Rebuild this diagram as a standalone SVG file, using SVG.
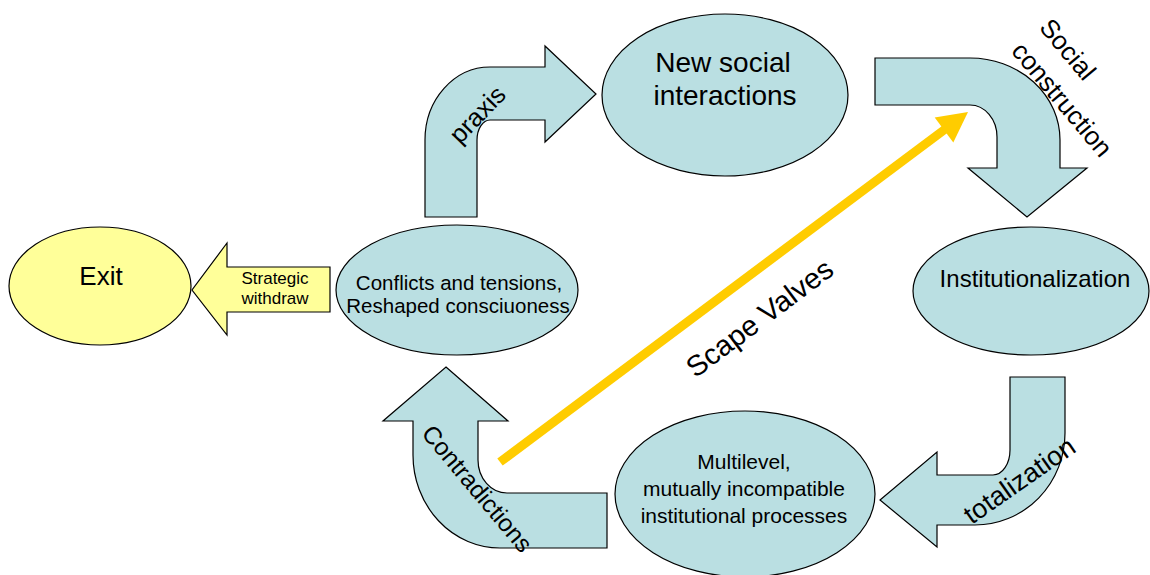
<svg xmlns="http://www.w3.org/2000/svg" width="1150" height="575" viewBox="0 0 1150 575">
<style>
.blue{fill:#BADFE2;stroke:#000;stroke-width:1.2}
.yel{fill:#FFFF99;stroke:#000;stroke-width:1.2}
text{font-family:"Liberation Sans",Arial,sans-serif;fill:#000}
.m{text-anchor:middle}
</style>
<rect width="1150" height="575" fill="#fff"/>
<g id="connectors">
  <g id="praxis">
    <path class="blue" d="M425,217 L425,140 A65,73 0 0 1 490,67 L545,67 L545,46 L596,94 L545,142 L545,120 L490,120 A13,20 0 0 0 477,140 L477,217 Z"/>
    <g transform="translate(479,116) rotate(-46)"><text class="m" x="0" y="6.5" font-size="25.5">praxis</text></g>
  </g>
  <g id="social-construction">
    <path class="blue" d="M875,58 L970,58 A90,82 0 0 1 1060,140 L1060,168 L1087,168 L1027,217 L968,168 L997,168 L997,137 A27,32 0 0 0 970,105 L875,105 Z"/>
    <g transform="translate(1017.5,45.4) rotate(50)">
      <text x="0" y="-27" font-size="26">Social</text>
      <text x="0" y="9.4" font-size="26">construction</text>
    </g>
  </g>
  <g id="totalization">
    <path class="blue" d="M1010,377 L1065,377 L1065,433 A90,92 0 0 1 975,525 L937,525 L937,547 L880,500 L937,452 L937,475 L993,475 A17,25 0 0 0 1010,450 Z"/>
    <g transform="translate(1019,480) rotate(-35)"><text class="m" x="0" y="9.7" font-size="27">totalization</text></g>
  </g>
  <g id="contradictions">
    <path class="blue" d="M446,367 L508,421 L478,421 L478,460 A29,33 0 0 0 507,493 L607,493 L607,548 L500,548 A87,93 0 0 1 413,455 L413,421 L383,421 Z"/>
    <g transform="translate(477.5,488.5) rotate(50)"><text class="m" x="0" y="8.6" font-size="24.5">Contradictions</text></g>
  </g>
  <g id="strategic-withdraw">
    <polygon class="yel" points="330,267 227,267 227,243 192,290 227,335 227,312 330,312"/>
    <text class="m" x="275" y="284" font-size="17">Strategic</text>
    <text class="m" x="275" y="304" font-size="17">withdraw</text>
  </g>
</g>
<g id="node-exit">
  <ellipse class="yel" cx="100" cy="286" rx="91" ry="59"/>
  <text class="m" x="101" y="285" font-size="26">Exit</text>
</g>
<g id="node-conflicts">
  <ellipse class="blue" cx="457" cy="290" rx="121" ry="65"/>
  <text class="m" x="459" y="290" font-size="20.5">Conflicts and tensions,</text>
  <text class="m" x="458" y="313" font-size="20.5">Reshaped consciuoness</text>
</g>
<g id="node-new-social">
  <ellipse class="blue" cx="725" cy="95" rx="123" ry="81"/>
  <text class="m" x="723" y="72" font-size="28">New social</text>
  <text class="m" x="725" y="105" font-size="28">interactions</text>
</g>
<g id="node-institutionalization">
  <ellipse class="blue" cx="1031" cy="291" rx="118" ry="64"/>
  <text class="m" x="1035" y="287" font-size="24">Institutionalization</text>
</g>
<g id="node-multilevel">
  <ellipse class="blue" cx="745" cy="494" rx="130" ry="83"/>
  <text class="m" x="744" y="469" font-size="21">Multilevel,</text>
  <text class="m" x="744" y="496" font-size="21">mutually incompatible</text>
  <text class="m" x="744" y="523" font-size="21">institutional processes</text>
</g>
<g id="scape-valves">
  <line x1="500" y1="462" x2="946" y2="128.5" stroke="#FFCC00" stroke-width="9"/>
  <polygon points="968,112 934.7,117.6 953.3,142.4" fill="#FFCC00"/>
  <g transform="translate(761,320) rotate(-37)"><text class="m" x="0" y="7.5" font-size="29">Scape Valves</text></g>
</g>
</svg>
